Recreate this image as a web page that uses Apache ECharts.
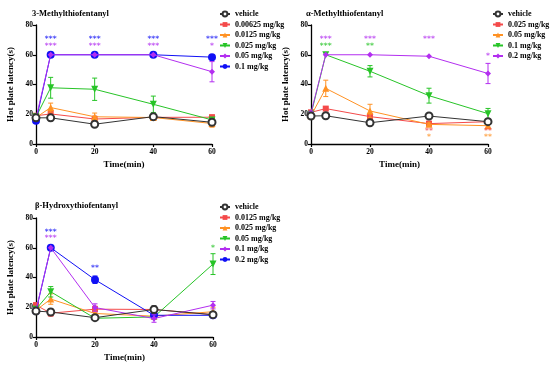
<!DOCTYPE html>
<html><head><meta charset="utf-8">
<script src="https://cdn.jsdelivr.net/npm/echarts@6/dist/echarts.min.js"></script>
<style>html,body{margin:0;padding:0;background:#fff}#c{width:550px;height:366px}</style>
</head><body><div id="c"></div>
<script>
// ---------- data ----------
const times = [0, 5, 20, 40, 60];
const xTicks = [0, 20, 40, 60];
const yTicks = [0, 20, 40, 60, 80];

const titles = ['3-Methylthiofentanyl', 'α-Methylthiofentanyl', 'β-Hydroxythiofentanyl'];
const yAxisName = 'Hot plate latency(s)';
const xAxisName = 'Time(min)';

// Panel 1: 3-Methylthiofentanyl
const p1Names = ['vehicle', '0.00625 mg/kg', '0.0125 mg/kg', '0.025 mg/kg', '0.05 mg/kg', '0.1 mg/kg'];
const p1Vehicle = [17.6, 17.6, 13.3, 18.4, 14.6];
const p1Dose1 = [19.0, 20.2, 16.8, 17.9, 18.0];
const p1Dose2 = [17.8, 24.5, 18.3, 17.8, 13.8];
const p1Dose3 = [18.2, 37.8, 36.8, 26.7, 16.2];
const p1Dose4 = [17.2, 60, 60, 60, 48.6];
const p1Dose5 = [15.6, 60, 60, 60, 58.4];
const p1VehicleErr = [1.2, 2.0, 1.0, 1.5, 1.5];
const p1Dose1Err = [1.5, 2.0, 2.0, 1.5, 1.5];
const p1Dose2Err = [1.5, 3.0, 2.5, 1.5, 2.5];
const p1Dose3Err = [2.0, 7.0, 7.5, 5.5, 1.0];
const p1Dose4Err = [1.0, 0, 0, 0, 6.8];
const p1Dose5Err = [1.0, 0, 0, 0, 1.0];
// significance marks: [time, latency level, text]
const p1StarsBlue = [[5, 70.6, '***'], [20, 70.6, '***'], [40, 70.6, '***'], [60, 70.6, '***']];
const p1StarsPurple = [[5, 66, '***'], [20, 66, '***'], [40, 66, '***'], [60, 66, '*']];

// Panel 2: α-Methylthiofentanyl
const p2Names = ['vehicle', '0.025 mg/kg', '0.05 mg/kg', '0.1 mg/kg', '0.2 mg/kg'];
const p2Vehicle = [18.8, 19.0, 14.3, 18.8, 15.0];
const p2Dose1 = [21.3, 23.8, 18.4, 13.7, 15.0];
const p2Dose2 = [19.0, 37.4, 22.2, 13.2, 12.3];
const p2Dose3 = [20.0, 60, 48.9, 32.5, 20.4];
const p2Dose4 = [21.0, 60, 60, 59.0, 47.4];
const p2VehicleErr = [1.0, 1.5, 1.0, 1.5, 1.0];
const p2Dose1Err = [1.0, 1.0, 1.5, 1.5, 1.0];
const p2Dose2Err = [1.0, 5.5, 4.5, 1.0, 1.0];
const p2Dose3Err = [1.0, 0, 3.8, 5.0, 3.5];
const p2Dose4Err = [1.0, 0, 0, 0, 6.8];
const p2StarsPurple = [[5, 70.6, '***'], [20, 70.6, '***'], [40, 70.6, '***'], [60, 59.2, '*']];
const p2StarsGreen = [[5, 66, '***'], [20, 66, '**']];
const p2StarsRed = [[40, 8.7, '**'], [60, 8.7, '**']];
const p2StarsOrange = [[40, 4.5, '*'], [60, 4.5, '**']];

// Panel 3: β-Hydroxythiofentanyl
const p3Names = ['vehicle', '0.0125 mg/kg', '0.025 mg/kg', '0.05 mg/kg', '0.1 mg/kg', '0.2 mg/kg'];
const p3Vehicle = [17.4, 16.8, 13.0, 18.5, 15.0];
const p3Dose1 = [21.4, 16.0, 18.7, 18.5, 15.0];
const p3Dose2 = [18.0, 25.5, 15.8, 14.0, 17.0];
const p3Dose3 = [18.7, 30.4, 12.6, 13.5, 49.0];
const p3Dose4 = [18.0, 60, 19.8, 12.4, 21.4];
const p3Dose5 = [17.4, 60, 38.5, 14.6, 14.6];
const p3VehicleErr = [1.0, 2.0, 1.0, 2.5, 1.0];
const p3Dose1Err = [1.5, 2.0, 2.0, 1.5, 2.0];
const p3Dose2Err = [1.0, 3.5, 1.5, 1.5, 3.0];
const p3Dose3Err = [1.0, 3.5, 1.0, 1.5, 7.0];
const p3Dose4Err = [1.0, 0, 2.5, 2.5, 2.5];
const p3Dose5Err = [1.0, 0, 2.5, 1.5, 1.5];
const p3StarsBlue = [[5, 70.6, '***'], [20, 46.4, '**']];
const p3StarsPurple = [[5, 66.5, '***']];
const p3StarsGreen = [[60, 60, '*']];

// ---------- styles ----------
const FONT = 'Liberation Serif';
const C = {black: '#333333', red: '#f44a4a', orange: '#ff9224', green: '#27c427', purple: '#b32ef0', blue: '#1010f5'};
const SYM = {
  vehicle: {symbol: 'emptyCircle', size: 7, z: 9},
  red: {symbol: 'rect', size: 6, z: 4},
  orange: {symbol: 'triangle', size: 7, z: 5},
  green: {symbol: 'triangle', size: 7, rotate: 180, z: 6},
  purple: {symbol: 'diamond', size: 6, z: 8},
  blue: {symbol: 'circle', size: 8, z: 7}
};

const panels = [
  {names: p1Names, colors: ['black', 'red', 'orange', 'green', 'purple', 'blue'],
   means: [p1Vehicle, p1Dose1, p1Dose2, p1Dose3, p1Dose4, p1Dose5],
   errs: [p1VehicleErr, p1Dose1Err, p1Dose2Err, p1Dose3Err, p1Dose4Err, p1Dose5Err],
   stars: [[p1StarsBlue, 'blue'], [p1StarsPurple, 'purple']]},
  {names: p2Names, colors: ['black', 'red', 'orange', 'green', 'purple'],
   means: [p2Vehicle, p2Dose1, p2Dose2, p2Dose3, p2Dose4],
   errs: [p2VehicleErr, p2Dose1Err, p2Dose2Err, p2Dose3Err, p2Dose4Err],
   stars: [[p2StarsPurple, 'purple'], [p2StarsGreen, 'green'], [p2StarsRed, 'red'], [p2StarsOrange, 'orange']]},
  {names: p3Names, colors: ['black', 'red', 'orange', 'green', 'purple', 'blue'],
   means: [p3Vehicle, p3Dose1, p3Dose2, p3Dose3, p3Dose4, p3Dose5],
   errs: [p3VehicleErr, p3Dose1Err, p3Dose2Err, p3Dose3Err, p3Dose4Err, p3Dose5Err],
   stars: [[p3StarsBlue, 'blue'], [p3StarsPurple, 'purple'], [p3StarsGreen, 'green']]}
];

const grids = [
  {left: 36, top: 25, width: 176, height: 119},
  {left: 311, top: 25, width: 177, height: 119},
  {left: 36, top: 218, width: 177, height: 119}
];
const titlePos = [{left: 27, top: 4}, {left: 301, top: 4}, {left: 30, top: 196}];
const legendPos = [{left: 219, top: 10}, {left: 492, top: 10}, {left: 219, top: 203}];

const option = {
  animation: false,
  backgroundColor: '#fff',
  title: titles.map((t, i) => ({text: t, left: titlePos[i].left, top: titlePos[i].top,
    textStyle: {fontFamily: FONT, fontWeight: 'bold', fontSize: 8.5, color: '#000'}})),
  grid: grids,
  legend: [],
  xAxis: [], yAxis: [], series: []
};

panels.forEach((p, pi) => {
  const suffix = ' '.repeat(pi); // make names unique per panel
  option.xAxis.push({
    type: 'value', gridIndex: pi, min: 0, max: 60, interval: 20,
    name: xAxisName, nameLocation: 'middle', nameGap: 16,
    nameTextStyle: {fontFamily: FONT, fontWeight: 'bold', fontSize: 9, color: '#000'},
    axisLine: {lineStyle: {color: '#000', width: 1.3}},
    axisTick: {length: 3, lineStyle: {color: '#000', width: 1.2}},
    axisLabel: {fontFamily: FONT, fontWeight: 'bold', fontSize: 7.5, color: '#000', margin: 4,
      customValues: xTicks},
    splitLine: {show: false}
  });
  option.yAxis.push({
    type: 'value', gridIndex: pi, min: 0, max: 80, interval: 20,
    name: yAxisName, nameLocation: 'middle', nameGap: 21,
    nameTextStyle: {fontFamily: FONT, fontWeight: 'bold', fontSize: 9, color: '#000'},
    axisLine: {show: true, lineStyle: {color: '#000', width: 1.3}},
    axisTick: {show: true, length: 3, lineStyle: {color: '#000', width: 1.2}},
    axisLabel: {fontFamily: FONT, fontWeight: 'bold', fontSize: 7.5, color: '#000', margin: 3,
      customValues: yTicks},
    splitLine: {show: false}
  });
  const legendNames = [];
  p.names.forEach((nm, si) => {
    const ck = p.colors[si];
    const col = C[ck];
    const sym = SYM[ck === 'black' ? 'vehicle' : ck];
    const name = nm + suffix;
    legendNames.push(name);
    const data = times.map((t, k) => [t, p.means[si][k]]);
    option.series.push({
      type: 'line', name: name, xAxisIndex: pi, yAxisIndex: pi,
      data: data, color: col,
      symbol: sym.symbol, symbolSize: sym.size, symbolRotate: sym.rotate || 0,
      lineStyle: {width: 1, color: col},
      itemStyle: {color: col, borderWidth: ck === 'black' ? 1 : 0},
      z: sym.z
    });
    const errData = times.map((t, k) => [t, p.means[si][k], p.errs[si][k]]);
    option.series.push({
      type: 'custom', name: name, xAxisIndex: pi, yAxisIndex: pi, silent: true,
      data: errData, z: sym.z,
      renderItem: (params, api) => {
        const x = api.value(0), y = api.value(1), e = api.value(2);
        if (!e) return null;
        const top = api.coord([x, y + e]);
        const bot = api.coord([x, y - e]);
        const hw = 2.5;
        const st = {stroke: col, lineWidth: 1};
        return {type: 'group', children: [
          {type: 'line', shape: {x1: top[0], y1: top[1], x2: bot[0], y2: bot[1]}, style: st},
          {type: 'line', shape: {x1: top[0] - hw, y1: top[1], x2: top[0] + hw, y2: top[1]}, style: st},
          {type: 'line', shape: {x1: bot[0] - hw, y1: bot[1], x2: bot[0] + hw, y2: bot[1]}, style: st}
        ]};
      }
    });
  });
  p.stars.forEach(([arr, ck]) => {
    option.series.push({
      type: 'scatter', xAxisIndex: pi, yAxisIndex: pi, silent: true,
      data: arr, symbolSize: 0, z: 20,
      label: {show: true, position: 'inside', formatter: q => q.data[2],
        fontFamily: 'DejaVu Sans', fontWeight: 'bold', fontSize: 7.5, color: C[ck]}
    });
  });
  option.legend.push({
    orient: 'vertical', left: legendPos[pi].left, top: legendPos[pi].top,
    data: legendNames, itemWidth: 10, itemHeight: 6, itemGap: 2.5,
    selectedMode: false, padding: 0,
    textStyle: {fontFamily: FONT, fontWeight: 'bold', fontSize: 8, color: '#000'}
  });
});

const chart = echarts.init(document.getElementById('c'), null, {renderer: 'canvas'});
chart.setOption(option);
</script></body></html>
